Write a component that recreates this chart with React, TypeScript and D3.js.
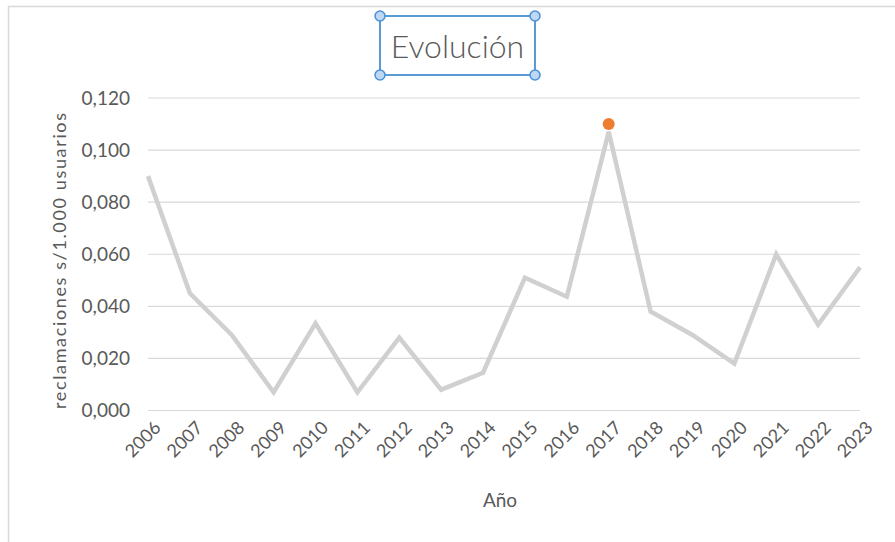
import React from "react";
import * as d3 from "d3";

const years: string[] = ["2006","2007","2008","2009","2010","2011","2012","2013","2014","2015","2016","2017","2018","2019","2020","2021","2022","2023"];
const values: number[] = [0.090,0.045,0.029,0.007,0.0335,0.007,0.028,0.008,0.0145,0.051,0.0437,0.107,0.038,0.029,0.018,0.060,0.033,0.055];
const highlightYear = "2017";
const highlightValue = 0.110;
const yTicks: number[] = [0, 0.02, 0.04, 0.06, 0.08, 0.10, 0.12];
const title = "Evolución";
const xTitle = "Año";
const yTitle = "reclamaciones s/1.000 usuarios";

const W = 895, H = 542;
const FONT = "Lato, 'Open Sans', sans-serif";
const TXT = "#595959";

export default function App() {
  const x = d3.scalePoint<string>().domain(years).range([148, 860]);
  const y = d3.scaleLinear().domain([0, 0.12]).range([410.5, 98]);
  const fmt = (v: number) => d3.format(".3f")(v).replace(".", ",");
  const line = d3.line<number>().x((_, i) => x(years[i]) as number).y((d) => y(d));

  const tb = { x0: 380, y0: 16, x1: 535, y1: 75 };
  const corners = [[tb.x0, tb.y0],[tb.x1, tb.y0],[tb.x0, tb.y1],[tb.x1, tb.y1]];

  return (
    <svg width={W} height={H} style={{ position: "absolute", left: 0, top: 0, background: "#fff" }} fontFamily={FONT}>
      <rect x={0} y={0} width={W} height={H} fill="#fff" />
      <line x1={8.5} y1={6} x2={8.5} y2={H} stroke="#d9d9d9" strokeWidth={1.5} />
      <line x1={8} y1={6.5} x2={W} y2={6.5} stroke="#d9d9d9" strokeWidth={1.5} />
      {yTicks.map((t) => (
        <g key={t}>
          <line x1={148} x2={860} y1={y(t)} y2={y(t)} stroke="#d9d9d9" strokeWidth={1.2} />
          <text x={130} y={y(t)} dy="0.35em" textAnchor="end" fontSize={19} fill={TXT}>{fmt(t)}</text>
        </g>
      ))}
      {years.map((yr) => (
        <text key={yr} transform={`translate(${(x(yr) as number) + 5},${420}) rotate(-45)`} textAnchor="end" dy="0.7em" fontSize={18} fill={TXT}>{yr}</text>
      ))}
      <path d={line(values) || ""} fill="none" stroke="#d0d0d0" strokeWidth={4.5} strokeLinejoin="miter" />
      <circle cx={x(highlightYear) as number} cy={y(highlightValue)} r={6} fill="#ED7D31" />
      <text x={500} y={507} textAnchor="middle" fontSize={19} fill={TXT}>{xTitle}</text>
      <text transform={`translate(66,261) rotate(-90)`} textAnchor="middle" fontSize={18} fill={TXT} textLength={296} lengthAdjust="spacing">{yTitle}</text>
      <text x={(tb.x0 + tb.x1) / 2} y={58} textAnchor="middle" fontSize={32} fontWeight={300} fill={TXT}>{title}</text>
      <rect x={tb.x0} y={tb.y0} width={tb.x1 - tb.x0} height={tb.y1 - tb.y0} fill="none" stroke="#5b9bd5" strokeWidth={2} />
      {corners.map(([cx, cy], i) => (
        <circle key={i} cx={cx} cy={cy} r={5} fill="#bcd8f5" stroke="#4a90d9" strokeWidth={1.5} />
      ))}
    </svg>
  );
}
